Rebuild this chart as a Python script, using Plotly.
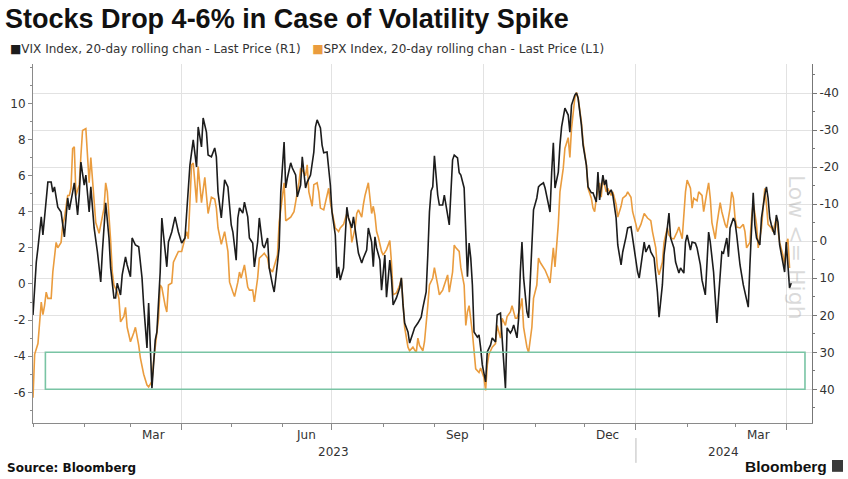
import plotly.graph_objects as go

# ---------------- data ----------------
vix_dates = [
"2023-01-01","2023-01-03","2023-01-04","2023-01-06","2023-01-07","2023-01-09","2023-01-10","2023-01-12","2023-01-13","2023-01-14","2023-01-16","2023-01-18","2023-01-20","2023-01-22","2023-01-23","2023-01-25","2023-01-26","2023-01-28","2023-01-29","2023-01-30",
"2023-02-01","2023-02-02","2023-02-04","2023-02-05","2023-02-07","2023-02-09","2023-02-11","2023-02-12","2023-02-14","2023-02-16","2023-02-17","2023-02-19","2023-02-20","2023-02-21","2023-02-23","2023-02-24","2023-02-26","2023-02-27",
"2023-03-01","2023-03-02","2023-03-04","2023-03-06","2023-03-08","2023-03-09","2023-03-11","2023-03-12","2023-03-13","2023-03-14","2023-03-16","2023-03-17","2023-03-19","2023-03-20","2023-03-21","2023-03-23","2023-03-24","2023-03-26","2023-03-28","2023-03-30",
"2023-04-01","2023-04-03","2023-04-06","2023-04-07","2023-04-08","2023-04-10","2023-04-11","2023-04-13","2023-04-14","2023-04-16","2023-04-17","2023-04-19","2023-04-21","2023-04-22","2023-04-23","2023-04-25","2023-04-26","2023-04-27","2023-04-29",
"2023-05-01","2023-05-02","2023-05-04","2023-05-05","2023-05-06","2023-05-08","2023-05-09","2023-05-11","2023-05-12","2023-05-14","2023-05-15","2023-05-17","2023-05-18","2023-05-20","2023-05-21","2023-05-23","2023-05-24","2023-05-26","2023-05-27","2023-05-28","2023-05-30","2023-05-31",
"2023-06-02","2023-06-03","2023-06-04","2023-06-06","2023-06-07","2023-06-09","2023-06-10","2023-06-12","2023-06-13","2023-06-15","2023-06-16","2023-06-18","2023-06-20","2023-06-21","2023-06-22","2023-06-24","2023-06-25","2023-06-26","2023-06-28","2023-06-30",
"2023-07-01","2023-07-03","2023-07-04","2023-07-05","2023-07-06","2023-07-08","2023-07-09","2023-07-10","2023-07-11","2023-07-13","2023-07-14","2023-07-16","2023-07-17","2023-07-19","2023-07-20","2023-07-22","2023-07-23","2023-07-25","2023-07-26","2023-07-27","2023-07-28","2023-07-30","2023-07-31",
"2023-08-02","2023-08-03","2023-08-05","2023-08-06","2023-08-07","2023-08-09","2023-08-11","2023-08-12","2023-08-13","2023-08-14","2023-08-16","2023-08-17","2023-08-19","2023-08-20","2023-08-22","2023-08-24","2023-08-25","2023-08-27","2023-08-28","2023-08-29","2023-08-30","2023-08-31",
"2023-09-01","2023-09-03","2023-09-04","2023-09-06","2023-09-07","2023-09-09","2023-09-10","2023-09-11","2023-09-12","2023-09-13","2023-09-15","2023-09-16","2023-09-17","2023-09-19","2023-09-20","2023-09-21","2023-09-22","2023-09-23","2023-09-24","2023-09-25","2023-09-27","2023-09-28","2023-09-29","2023-09-30",
"2023-10-02","2023-10-03","2023-10-05","2023-10-06","2023-10-08","2023-10-09","2023-10-11","2023-10-12","2023-10-14","2023-10-15","2023-10-17","2023-10-18","2023-10-19","2023-10-21","2023-10-22","2023-10-23","2023-10-24","2023-10-25","2023-10-27","2023-10-28","2023-10-29","2023-10-30","2023-10-31",
"2023-11-02","2023-11-03","2023-11-04","2023-11-06","2023-11-07","2023-11-09","2023-11-10","2023-11-11","2023-11-12","2023-11-13","2023-11-15","2023-11-16","2023-11-17","2023-11-19","2023-11-21","2023-11-22","2023-11-23","2023-11-25","2023-11-26","2023-11-27","2023-11-29","2023-11-30",
"2023-12-02","2023-12-03","2023-12-05","2023-12-06","2023-12-08","2023-12-09","2023-12-10","2023-12-12","2023-12-13","2023-12-14","2023-12-15","2023-12-17","2023-12-18","2023-12-20","2023-12-21","2023-12-23","2023-12-24","2023-12-26","2023-12-27","2023-12-29","2023-12-30",
"2024-01-01","2024-01-02","2024-01-03","2024-01-05","2024-01-06","2024-01-07","2024-01-09","2024-01-10","2024-01-12","2024-01-14","2024-01-15","2024-01-17","2024-01-18","2024-01-20","2024-01-21","2024-01-22","2024-01-24","2024-01-25","2024-01-27","2024-01-28","2024-01-30","2024-01-31",
"2024-02-01","2024-02-03","2024-02-04","2024-02-06","2024-02-07","2024-02-09","2024-02-10","2024-02-12","2024-02-13","2024-02-14","2024-02-15","2024-02-17","2024-02-18","2024-02-19","2024-02-20","2024-02-22","2024-02-23","2024-02-25","2024-02-26","2024-02-27","2024-02-29",
"2024-03-01","2024-03-02","2024-03-04","2024-03-06","2024-03-07","2024-03-09","2024-03-10","2024-03-11","2024-03-12","2024-03-13","2024-03-14","2024-03-16","2024-03-17","2024-03-19","2024-03-20","2024-03-21","2024-03-22","2024-03-23","2024-03-25","2024-03-26","2024-03-27","2024-03-28","2024-03-30","2024-03-31",
"2024-04-01","2024-04-02","2024-04-03","2024-04-04",
]
vix_change = [
19.9, 5.6, 1.8, -6.6, -1.7, -11.7, -16.0, -16.0, -13.3, -14.7, -9.2, -7.9, -1.2, -11.7, -8.5, -13.3, -15.8, -7.1, -12.5, -21.4,
-15.2, -17.9, -7.9, -14.7, -3.6, 2.9, 11.0, 2.9, -10.4, -0.9, 7.2, 15.3, 15.3, 11.3, 14.5, 9.1, 4.2, 6.4,
9.6, -0.9, 1.0, 1.5, 9.9, 17.2, 28.8, 16.7, 26.1, 39.7, 26.7, 24.5, 8.3, -6.3, -1.7, 6.9, 0.2, -2.5, -6.6, -2.5,
0.5, -0.9, -20.6, -24.1, -27.4, -20.1, -30.9, -25.5, -33.3, -29.5, -23.3, -22.8, -25.2, -22.8, -13.3, -6.3, -10.6, -16.6, -14.7,
-4.4, -2.5, 5.1, -6.3, -9.0, -7.6, -10.6, -6.6, -0.9, 0.5, 6.9, 0.2, -6.3, 1.0, 1.8, -0.9, 7.2, 11.8, 13.7, 9.9, 1.8, -13.3,
-26.8, -14.4, -17.1, -21.2, -19.8, -17.9, -12.0, -15.2, -22.8, -14.4, -16.0, -17.9, -24.1, -30.9, -32.8, -30.6, -26.0, -23.9, -24.1, -15.2,
-7.9, -1.7, 9.9, 6.9, 10.5, 7.2, -1.7, -9.2, -6.3, -3.6, -6.6, 0.2, 3.2, 5.9, 4.5, 2.4, -3.6, 0.2, 6.9, -1.2, 1.8, 5.1, 13.2,
3.7, 15.1, 5.1, 9.9, 17.2, 15.3, 12.6, 9.9, 17.2, 22.1, 24.5, 27.5, 24.8, 23.4, 22.1, 20.5, 18.0, 13.7, 3.7, -7.9, -13.6, -14.7,
-23.1, -12.5, -9.8, -9.8, -12.5, -7.1, -4.4, -13.3, -22.0, -23.3, -22.5, -18.5, -17.9, -14.4, -1.7, 9.6, 0.5, 4.5, 11.8, 24.5, 25.9, 25.3, 28.8, 33.4,
38.0, 29.9, 28.0, 26.1, 27.2, 19.9, 19.4, 26.1, 39.7, 23.4, 24.8, 24.0, 22.6, 26.1, 20.7, 8.3, 0.2, 9.9, 19.1, 20.7, 11.8, 1.0, -8.5,
-11.7, -14.7, -15.2, -15.8, -14.4, -10.4, -7.9, -18.7, -26.6, -14.4, -18.7, -26.0, -30.9, -36.0, -34.1, -29.5, -36.8, -39.5, -40.1, -38.7, -31.4, -26.0,
-20.6, -14.7, -13.1, -13.1, -10.6, -18.7, -11.2, -17.9, -15.2, -16.6, -12.5, -13.9, -12.5, -6.3, 1.0, 6.4, 2.9, -1.2, -3.6, -3.9, -0.9,
4.5, 8.3, 9.9, 3.7, 0.2, 2.9, 1.0, 2.9, 4.5, 13.7, 20.5, 11.8, 3.7, -3.6, -7.6, -0.9, 1.8, 5.6, 8.6, 7.2, 8.6, 0.2,
-1.7, 2.4, 0.2, 0.5, 1.8, 6.4, 10.5, 14.5, 4.5, -2.5, 0.2, 8.3, 15.3, 22.1, 15.3, 2.9, 3.2, -0.9, 4.2, -3.6, -6.3,
-5.2, -1.7, 6.4, 11.8, 13.7, 17.8, 6.4, -4.4, -13.1, -4.4, -0.9, 1.0, -6.3, -12.5, -14.7, -11.7, -6.3, -4.4, -1.7, -7.1, -5.2, 1.0, 5.6, 8.3,
0.2, 5.6, 12.6, 11.3,
]

spx_dates = [
"2023-01-01","2023-01-02","2023-01-04","2023-01-06","2023-01-07","2023-01-08","2023-01-09","2023-01-10","2023-01-12","2023-01-13","2023-01-15","2023-01-16","2023-01-18","2023-01-19","2023-01-20","2023-01-22","2023-01-23","2023-01-24","2023-01-25","2023-01-26","2023-01-27","2023-01-29","2023-01-30","2023-01-31",
"2023-02-02","2023-02-03","2023-02-04","2023-02-05","2023-02-07","2023-02-08","2023-02-10","2023-02-11","2023-02-13","2023-02-14","2023-02-15","2023-02-17","2023-02-18","2023-02-19","2023-02-21","2023-02-22","2023-02-23","2023-02-25","2023-02-26","2023-02-27",
"2023-03-01","2023-03-03","2023-03-04","2023-03-06","2023-03-07","2023-03-09","2023-03-11","2023-03-12","2023-03-14","2023-03-15","2023-03-16","2023-03-18","2023-03-19","2023-03-20","2023-03-22","2023-03-23","2023-03-24","2023-03-26","2023-03-27","2023-03-29","2023-03-30",
"2023-04-01","2023-04-02","2023-04-04","2023-04-05","2023-04-07","2023-04-08","2023-04-09","2023-04-10","2023-04-11","2023-04-12","2023-04-13","2023-04-15","2023-04-16","2023-04-17","2023-04-19","2023-04-21","2023-04-22","2023-04-23","2023-04-25","2023-04-26","2023-04-27","2023-04-29","2023-04-30",
"2023-05-02","2023-05-03","2023-05-05","2023-05-06","2023-05-07","2023-05-09","2023-05-11","2023-05-12","2023-05-14","2023-05-15","2023-05-17","2023-05-18","2023-05-20","2023-05-21","2023-05-23","2023-05-24","2023-05-26","2023-05-27","2023-05-29","2023-05-30",
"2023-06-01","2023-06-02","2023-06-03","2023-06-05","2023-06-06","2023-06-08","2023-06-09","2023-06-11","2023-06-12","2023-06-13","2023-06-15","2023-06-16","2023-06-17","2023-06-19","2023-06-20","2023-06-22","2023-06-23","2023-06-24","2023-06-26","2023-06-27","2023-06-29","2023-06-30",
"2023-07-02","2023-07-03","2023-07-05","2023-07-06","2023-07-08","2023-07-10","2023-07-12","2023-07-13","2023-07-15","2023-07-16","2023-07-17","2023-07-19","2023-07-20","2023-07-21","2023-07-23","2023-07-24","2023-07-25","2023-07-26","2023-07-27","2023-07-28","2023-07-29","2023-07-31",
"2023-08-01","2023-08-03","2023-08-05","2023-08-06","2023-08-07","2023-08-09","2023-08-11","2023-08-12","2023-08-13","2023-08-14","2023-08-16","2023-08-17","2023-08-19","2023-08-21","2023-08-22","2023-08-23","2023-08-25","2023-08-26","2023-08-28","2023-08-29","2023-08-31",
"2023-09-01","2023-09-03","2023-09-04","2023-09-06","2023-09-07","2023-09-09","2023-09-10","2023-09-12","2023-09-13","2023-09-14","2023-09-16","2023-09-17","2023-09-19","2023-09-20","2023-09-21","2023-09-22","2023-09-24","2023-09-25","2023-09-26","2023-09-28","2023-09-29",
"2023-10-01","2023-10-02","2023-10-03","2023-10-04","2023-10-06","2023-10-08","2023-10-09","2023-10-11","2023-10-12","2023-10-14","2023-10-15","2023-10-17","2023-10-18","2023-10-20","2023-10-21","2023-10-23","2023-10-24","2023-10-25","2023-10-27","2023-10-28","2023-10-30","2023-10-31",
"2023-11-02","2023-11-03","2023-11-04","2023-11-06","2023-11-07","2023-11-09","2023-11-10","2023-11-11","2023-11-12","2023-11-13","2023-11-15","2023-11-16","2023-11-18","2023-11-19","2023-11-21","2023-11-22","2023-11-23","2023-11-25","2023-11-26","2023-11-27","2023-11-29","2023-11-30",
"2023-12-02","2023-12-03","2023-12-05","2023-12-06","2023-12-07","2023-12-08","2023-12-10","2023-12-11","2023-12-12","2023-12-14","2023-12-15","2023-12-17","2023-12-18","2023-12-20","2023-12-21","2023-12-23","2023-12-24","2023-12-26","2023-12-27","2023-12-29","2023-12-30",
"2024-01-01","2024-01-02","2024-01-04","2024-01-05","2024-01-06","2024-01-08","2024-01-10","2024-01-11","2024-01-13","2024-01-14","2024-01-15","2024-01-17","2024-01-18","2024-01-20","2024-01-21","2024-01-23","2024-01-24","2024-01-26","2024-01-27","2024-01-29","2024-01-30","2024-01-31",
"2024-02-01","2024-02-03","2024-02-04","2024-02-05","2024-02-07","2024-02-08","2024-02-10","2024-02-11","2024-02-13","2024-02-14","2024-02-15","2024-02-16","2024-02-18","2024-02-19","2024-02-21","2024-02-22","2024-02-24","2024-02-25","2024-02-27","2024-02-28","2024-02-29",
"2024-03-01","2024-03-02","2024-03-04","2024-03-06","2024-03-07","2024-03-08","2024-03-10","2024-03-11","2024-03-12","2024-03-14","2024-03-15","2024-03-17","2024-03-18","2024-03-19","2024-03-20","2024-03-21","2024-03-23","2024-03-24","2024-03-26","2024-03-27","2024-03-28","2024-03-30","2024-03-31",
"2024-04-01","2024-04-02","2024-04-03",
]
spx_change = [
-6.3, -3.9, -3.3, -1.0, -1.7, -1.2, -0.45, -0.8, -0.8, 0.66, 2.3, 2.0, 2.3, 3.3, 3.65, 4.9, 4.9, 5.3, 7.5, 7.6, 4.9, 5.5, 7.1, 8.5,
8.6, 7.3, 5.6, 7.0, 4.9, 3.4, 2.8, 3.3, 4.2, 5.6, 5.1, 2.4, 0.66, -0.06, -0.45, -0.8, -2.1, -1.8, -1.3, -2.4,
-3.2, -2.7, -2.4, -3.4, -4.1, -5.0, -5.6, -5.7, -5.4, -4.3, -3.5, -1.9, -0.06, -0.2, -1.2, -1.55, -0.06, 0.05, 1.2, 1.6, 1.8,
1.8, 2.15, 2.9, 2.5, 6.6, 6.7, 5.5, 4.5, 6.5, 5.6, 4.5, 5.9, 4.9, 3.9, 4.8, 4.7, 4.2, 3.1, 2.2, 2.6, 2.9, 1.8, 0.1,
-0.45, -0.7, 0.1, 0.66, 0.33, 1.05, -0.17, -0.34, -0.34, -1.0, 0.33, 1.43, 1.6, 1.7, 1.43, 0.88, 0.66, 0.94, 1.6, 3.4,
5.1, 5.6, 3.5, 3.65, 3.7, 4.0, 4.5, 5.6, 6.4, 6.3, 6.0, 6.6, 5.1, 4.3, 5.5, 5.6, 5.1, 4.2, 4.1, 4.5, 5.3, 4.5,
3.65, 3.1, 2.9, 3.1, 3.3, 3.9, 3.4, 2.3, 3.1, 3.9, 4.1, 3.7, 4.4, 4.9, 5.6, 4.8, 3.9, 4.3, 3.8, 2.9, 2.6, 1.8,
1.6, 1.9, 2.4, 1.2, -0.6, -0.5, -0.06, 0.33, -1.0, -2.4, -3.5, -3.7, -3.5, -3.8, -3.0, -3.4, -3.7, -3.2, -1.2, -0.06, 0.33,
0.9, -0.06, -0.6, -0.34, -0.06, 0.5, -0.45, 0.66, 2.15, 2.0, 1.8, 0.9, -0.06, -2.3, -1.55, -1.2, -2.7, -3.9, -4.7, -4.9, -4.65,
-5.2, -5.9, -4.5, -3.9, -3.5, -3.3, -2.3, -3.0, -1.9, -2.3, -1.8, -1.55, -1.2, -1.9, -1.9, -1.3, -0.8, -2.4, -3.5, -3.8, -2.4, -0.8,
-0.06, 1.43, 1.2, 0.94, 0.77, 0.33, 0.05, 1.05, 2.0, 0.94, 3.3, 5.1, 6.4, 7.5, 8.1, 7.0, 8.6, 10.3, 10.6, 10.3, 8.96, 7.85,
6.6, 5.3, 4.75, 4.2, 4.0, 4.75, 5.6, 4.8, 5.9, 5.1, 5.3, 4.9, 5.1, 4.4, 3.7, 4.3, 4.75, 4.9, 5.1, 4.8, 4.0,
3.3, 2.9, 3.3, 3.65, 3.9, 3.65, 3.5, 2.9, 2.0, 0.88, 0.5, 1.2, 2.3, 3.1, 2.7, 2.5, 2.5, 2.9, 3.15, 2.5, 4.0, 5.1,
5.75, 5.3, 4.2, 4.75, 4.6, 5.1, 4.9, 4.0, 5.1, 5.6, 4.75, 3.4, 2.5, 3.3, 4.5, 4.0, 3.3, 3.1, 4.2, 5.1, 4.75,
3.65, 3.15, 3.1, 3.3, 2.9, 2.0, 2.3, 3.65, 4.5, 3.3, 2.0, 3.1, 4.4, 5.3, 4.4, 3.3, 3.1, 2.9, 3.65, 3.1, 2.3, 1.6, 1.05,
2.15, 2.5, 0.88,
]

left_ticks = [-6, -4, -2, 0, 2, 4, 6, 8, 10]
right_ticks = [-40, -30, -20, -10, 0, 10, 20, 30, 40]
month_labels = ["Mar", "Jun", "Sep", "Dec", "Mar"]
month_label_dates = ["2023-03-15", "2023-06-15", "2023-09-15", "2023-12-15", "2024-03-15"]
year_labels = ["2023", "2024"]
year_label_dates = ["2023-07-02", "2024-02-23"]
quarter_starts = ["2023-04-01", "2023-07-01", "2023-10-01", "2024-01-01", "2024-04-01"]
month_starts = ["2023-%02d-01" % m for m in range(1, 13)] + ["2024-%02d-01" % m for m in range(1, 5)]

# highlight box (VIX axis units)
box_vix_low, box_vix_high = 30, 40
box_start, box_end = "2023-01-08 12:00", "2024-04-12 08:00"

BLACK = "#1c1c1c"
ORANGE = "#EA9C3E"
TXT = "#333333"
GRID = "#e2e2e2"
AX = "#8a8a8a"
FONT = "DejaVu Sans"

fig = go.Figure()
fig.add_trace(go.Scatter(x=vix_dates, y=vix_change, yaxis="y2", mode="lines",
                         line=dict(color=BLACK, width=1.6), name="VIX", showlegend=False))
fig.add_trace(go.Scatter(x=spx_dates, y=spx_change, yaxis="y", mode="lines",
                         line=dict(color=ORANGE, width=1.6), name="SPX", showlegend=False))

fig.update_layout(
    width=848, height=479,
    margin=dict(l=33, r=36, t=64, b=56, autoexpand=False),
    paper_bgcolor="white", plot_bgcolor="white",
    title=dict(text="<b>Stocks Drop 4-6% in Case of Volatility Spike</b>",
               x=0.006, xanchor="left", y=0.962, yanchor="middle",
               font=dict(family="Liberation Sans", size=27, color="#111111")),
    xaxis=dict(type="date", range=["2023-01-01", "2024-04-16 14:00"], automargin=False,
               showgrid=True, gridcolor=GRID, gridwidth=1,
               tickvals=quarter_starts, showticklabels=False,
               ticks="outside", ticklen=6, tickcolor=AX,
               showline=True, linecolor=AX, linewidth=1, zeroline=False,
               minor=dict(tickvals=month_starts, ticks="outside", ticklen=3,
                          tickcolor=AX, showgrid=False)),
    yaxis=dict(range=[-7.70, 12.18], tickvals=left_ticks, automargin=False,
               ticktext=[str(v) for v in left_ticks],
               showgrid=False, zeroline=False,
               showline=True, linecolor=AX, linewidth=1,
               ticks="outside", ticklen=4, tickcolor=AX,
               tickfont=dict(family=FONT, size=12, color=TXT),
               minor=dict(dtick=1, ticks="outside", ticklen=2, tickcolor=AX, showgrid=False)),
    yaxis2=dict(range=[49.1, -47.9], overlaying="y", side="right", automargin=False,
                tickvals=right_ticks, ticktext=[str(v) for v in right_ticks],
                showgrid=True, gridcolor=GRID, gridwidth=1, zeroline=False,
                showline=True, linecolor="#777777", linewidth=1,
                ticks="outside", ticklen=4, tickcolor="#777777",
                tickfont=dict(family=FONT, size=12, color=TXT),
                minor=dict(dtick=5, ticks="outside", ticklen=2, tickcolor="#777777", showgrid=False)),
)

# highlight rectangle
fig.add_shape(type="rect", xref="x", yref="y2", x0=box_start, x1=box_end,
              y0=box_vix_low, y1=box_vix_high,
              line=dict(color="#79c4a4", width=1.6), fillcolor="rgba(0,0,0,0)", layer="above")

# year separator below axis
fig.add_shape(type="line", xref="x", yref="paper", x0="2024-01-01", x1="2024-01-01",
              y0=-0.042, y1=-0.111, line=dict(color="#bbbbbb", width=1))

ann = []
# legend
ann.append(dict(xref="paper", yref="paper", x=-0.0325, y=1.0418, xanchor="left", yanchor="middle",
                showarrow=False, align="left",
                text=('<span style="color:%s">■</span>VIX Index, 20-day rolling chan - Last Price (R1)'
                      '&nbsp;&nbsp;&nbsp;<span style="color:%s">■</span>SPX Index, 20-day rolling chan - Last Price (L1)')
                     % (BLACK, ORANGE),
                font=dict(family=FONT, size=12, color=TXT)))
# month labels
for lab, d in zip(month_labels, month_label_dates):
    ann.append(dict(xref="x", yref="paper", x=d, y=-0.034, xanchor="center", yanchor="middle",
                    showarrow=False, text=lab, font=dict(family=FONT, size=12, color=TXT)))
for lab, d in zip(year_labels, year_label_dates):
    ann.append(dict(xref="x", yref="paper", x=d, y=-0.082, xanchor="center", yanchor="middle",
                    showarrow=False, text=lab, font=dict(family=FONT, size=12, color=TXT)))
# watermark
ann.append(dict(xref="paper", yref="paper", x=0.981, y=0.49, xanchor="center", yanchor="middle",
                showarrow=False, text="Low &lt;= High", textangle=90,
                font=dict(family=FONT, size=22, color="rgba(150,150,150,0.35)")))
# footer
ann.append(dict(xref="paper", yref="paper", x=-0.036, y=-0.125, xanchor="left", yanchor="middle",
                showarrow=False, text="<b>Source: Bloomberg</b>",
                font=dict(family=FONT, size=12, color="#111111")))
ann.append(dict(xref="paper", yref="paper", x=1.0218, y=-0.12, xanchor="right", yanchor="middle",
                showarrow=False, text="<b>Bloomberg</b>",
                font=dict(family="Liberation Sans", size=15.5, color="#111111")))
fig.update_layout(annotations=ann)

fig.add_shape(type="rect", xref="paper", yref="paper", x0=1.0257, x1=1.0398, y0=-0.103, y1=-0.136,
              line=dict(width=0), fillcolor="#3a3a3a")

fig.write_html("out.html", config={"displayModeBar": False},
               post_script="document.body.style.margin='0px';document.body.style.padding='0px';")
